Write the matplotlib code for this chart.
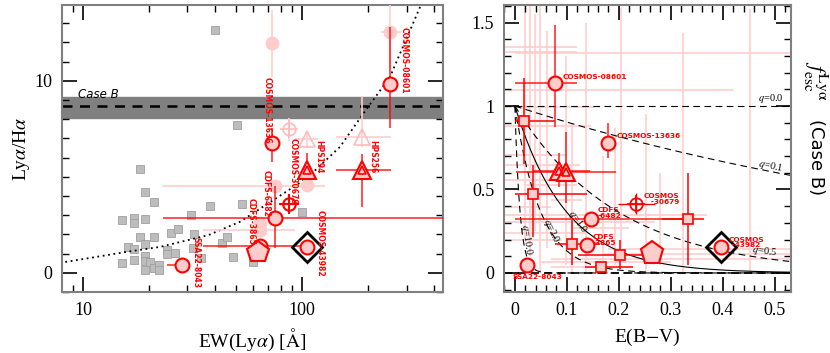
import numpy as np
import matplotlib
matplotlib.use("Agg")
import matplotlib.pyplot as plt
from matplotlib.ticker import MultipleLocator, LogLocator, FuncFormatter, NullFormatter

plt.rcParams["font.family"] = ["Liberation Serif", "DejaVu Serif"]
plt.rcParams["mathtext.fontset"] = "stix"

RED = "#ff0000"
PINK = "#ffcccc"
PALE = "#ffcdcd"
LBL = "DejaVu Sans"

# ---------------- left panel data: Lya/Ha vs EW(Lya) ----------------
grey_ew = [18.2, 19.2, 21.1, 15.1, 17.1, 17.1, 19.2, 18.2, 19.2, 21.1, 16.0, 17.1,
           25.2, 27.2, 31.1, 32.1, 24.2, 24.2, 26.3, 31.8, 34.6, 17.1, 15.1, 19.2,
           19.2, 20.2, 21.1, 22.2, 22.2, 19.2, 38.0, 53.2, 100, 43.2, 45.5, 48.4,
           59.7, 40.1, 50.5]
grey_ratio = [5.40, 4.20, 3.68, 2.74, 2.85, 2.59, 2.80, 1.86, 1.49, 1.86, 1.34, 1.23,
              2.07, 2.28, 3.00, 2.02, 1.18, 0.97, 1.03, 1.29, 0.77, 0.69, 0.51, 0.87,
              0.61, 0.56, 0.24, 0.40, 0.14, 0.14, 3.47, 3.58, 3.16, 1.55, 1.86, 0.82,
              0.56, 12.64, 7.69]

# dotted model curve
curve_ew = [7.85, 11.1, 15.8, 22.5, 37.3, 52.1, 74.0, 105, 149, 190.6, 252, 346]
curve_ratio = [0.52, 0.80, 1.09, 1.35, 1.96, 2.66, 3.79, 4.92, 6.56, 8.30, 10.2, 13.85]

caseb_ratio = 8.7
caseb_lo, caseb_hi = 8.05, 9.17

# labelled objects (corrected values)
circ_names = ["SSA22-8043", "CDFS-3865", "CDFS-6482", "COSMOS-13636", "COSMOS-43982", "COSMOS-08601"]
circ_ew = [28.2, 64.3, 75.3, 73.1, 105, 253]
circ_ratio = [0.40, 1.41, 2.83, 6.77, 1.35, 9.83]
circ_ew_lo = [24.1, 35.3, 23.2, 73.1, 105, 253]
circ_ew_hi = [28.2, 97.9, 440, 73.1, 105, 253]
circ_ratio_lo = [0.40, 1.41, 1.27, 5.78, 1.35, 7.54]
circ_ratio_hi = [0.40, 1.41, 4.50, 7.53, 1.35, 12.81]

cross_ew, cross_ratio = [87.3], [3.61]          # COSMOS-30679
tri_ew = [105, 187.5]                            # HPS194, HPS256
tri_ratio = [5.35, 5.35]
tri_ew_lo = [105, 143.6]
tri_ew_hi = [105, 253.6]
tri_ratio_lo = [4.85, 3.44]
tri_ratio_hi = [6.25, 6.20]
pent_ew, pent_ratio = [63.1], [1.09]
diam_ew, diam_ratio = [105], [1.35]

# pale (uncorrected) counterparts
pale_circ_ew = [64.3, 64.3, 75.3, 73.1, 105, 253]
pale_circ_ratio = [2.22, 2.57, 4.50, 11.95, 4.57, 12.54]
pale_circ_ew_lo = [35.3, 64.3, 23.2, 73.1, 105, 229]
pale_circ_ew_hi = [92.8, 64.3, 127, 73.1, 105, 284]
pale_circ_ratio_lo = [2.22, 2.57, 4.50, 10.2, 4.57, 10.6]
pale_circ_ratio_hi = [2.22, 2.57, 4.50, 13.7, 4.57, 14.5]
pale_cross_ew, pale_cross_ratio = [87.3], [7.47]
pale_tri_ew = [105, 187.5]
pale_tri_ratio = [6.95, 7.08]
pale_tri_ew_lo = [92.8, 143.6]
pale_tri_ew_hi = [118, 253.6]
pale_tri_ratio_lo = [6.5, 6.56]
pale_tri_ratio_hi = [7.4, 9.2]

left_labels = ["COSMOS-08601", "COSMOS-13636", "COSMOS-30679", "HPS194", "HPS256",
               "CDFS-6482", "CDFS-3865", "COSMOS-43982", "SSA22-8043"]
left_label_ew = [292, 69.2, 90.9, 119.7, 211, 68.5, 58.5, 120.8, 32.8]
left_label_ratio = [12.8, 10.2, 7.0, 6.9, 6.9, 5.35, 3.89, 3.27, 1.86]

# ---------------- right panel data: f_esc vs E(B-V) ----------------
r_circ_ebv = [0.077, 0.179, 0.1455, 0.138, 0.396, 0.024]
r_circ_fesc = [1.136, 0.780, 0.326, 0.166, 0.156, 0.046]
r_circ_ebv_lo = [0.0, 0.179, 0.0, 0.138, 0.396, 0.024]
r_circ_ebv_hi = [0.119, 0.179, 0.336, 0.138, 0.396, 0.024]
r_circ_fesc_lo = [0.876, 0.686, 0.326, 0.166, 0.156, 0.046]
r_circ_fesc_hi = [1.486, 0.896, 0.326, 0.166, 0.156, 0.046]

r_cross_ebv, r_cross_fesc = [0.2327], [0.416]
r_cross_ebv_lo, r_cross_ebv_hi = [0.199], [0.269]
r_cross_fesc_lo, r_cross_fesc_hi = [0.352], [0.480]

r_tri_ebv = [0.085, 0.0975]
r_tri_fesc = [0.612, 0.606]
r_tri_ebv_lo = [0.035, 0.003]
r_tri_ebv_hi = [0.145, 0.194]
r_tri_fesc_lo = [0.516, 0.418]
r_tri_fesc_hi = [0.720, 0.846]

r_sq_ebv = [0.017, 0.035, 0.333, 0.110, 0.203, 0.165]
r_sq_fesc = [0.910, 0.472, 0.322, 0.172, 0.106, 0.036]
r_sq_ebv_lo = [0.0, 0.0, 0.283, 0.077, 0.122, 0.135]
r_sq_ebv_hi = [0.077, 0.139, 0.363, 0.163, 0.244, 0.227]
r_sq_fesc_lo = [0.65, 0.216, 0.046, 0.046, 0.026, 0.036]
r_sq_fesc_hi = [1.17, 0.646, 0.596, 0.316, 0.196, 0.036]

r_pent_ebv, r_pent_fesc = [0.264], [0.120]
r_diam_ebv, r_diam_fesc = [0.396], [0.156]

# background (comparison sample) error bars
bg_h_fesc = [1.356, 1.326, 1.316, 1.096, 0.992, 0.88, 0.706, 0.646, 0.556, 0.526, 0.436,
             0.396, 0.346, 0.306, 0.272, 0.24, 0.196, 0.146, 0.116, 0.086, 0.066, 0.036]
bg_h_lo = [-0.02, -0.02, 0.0, -0.02, -0.02, -0.02, -0.02, -0.02, -0.02, 0.02, 0.07,
           -0.02, -0.02, -0.02, 0.11, -0.02, -0.02, 0.18, 0.17, 0.07, 0.05, 0.07]
bg_h_hi = [0.119, 0.119, 0.53, 0.42, 0.154, 0.147, 0.10, 0.125, 0.09, 0.12, 0.13,
           0.07, 0.37, 0.27, 0.22, 0.14, 0.09, 0.53, 0.53, 0.53, 0.30, 0.18]
bg_v_ebv = [0.019, 0.029, 0.038, 0.049, 0.061, 0.099, 0.136, 0.192, 0.205, 0.253,
            0.324, 0.452, 0.28, 0.17, 0.11]
bg_v_lo = [0.2, 0.1, 0.25, 0.0, 0.15, 0.05, 0.0, 0.05, 0.1, 0.0, 0.0, 0.0, 0.05, 0.0, 0.0]
bg_v_hi = [1.6, 1.6, 1.55, 1.6, 1.45, 1.3, 1.5, 0.87, 1.59, 0.95, 1.44, 1.58, 0.6, 0.7, 0.9]

q_values = [0.0, 0.1, 0.5, 1.0, 2.0, 10.0]
k_lya = 11.0

right_labels = ["COSMOS-08601", "COSMOS-13636", "COSMOS\n   -30679", "CDFS\n-6482",
                "CDFS\n-3865", "COSMOS\n -43982", "SSA22-8043"]
right_label_ebv = [0.091, 0.196, 0.247, 0.159, 0.150, 0.411, -0.004]
right_label_fesc = [1.176, 0.822, 0.441, 0.357, 0.196, 0.182, -0.024]


def bars(ax, x, y, xlo, xhi, ylo, yhi, color, lw, alpha=1.0, z=2):
    x = np.asarray(x); y = np.asarray(y)
    xerr = [x - np.asarray(xlo), np.asarray(xhi) - x]
    yerr = [y - np.asarray(ylo), np.asarray(yhi) - y]
    ax.errorbar(x, y, xerr=xerr, yerr=yerr, fmt="none", ecolor=color,
                elinewidth=lw, capsize=0, alpha=alpha, zorder=z)


def style_axes(ax):
    for s in ax.spines.values():
        s.set_color("#808080")
        s.set_linewidth(1.5)
    ax.tick_params(which="both", direction="in", top=True, right=True,
                   labelsize=13, color="black")
    ax.tick_params(which="major", length=11, width=1.2, pad=7)
    ax.tick_params(which="minor", length=5, width=1)


fig = plt.figure(figsize=(8.3, 3.53), dpi=100)
axL = fig.add_axes([0.0747, 0.1728, 0.459, 0.813])
axR = fig.add_axes([0.6072, 0.1728, 0.3458, 0.813])

# ---------------- left ----------------
ax = axL
ax.set_xscale("log")
ax.axhspan(caseb_lo, caseb_hi, color="#808080", zorder=1)
ax.axhline(caseb_ratio, color="black", lw=1.8, ls=(0, (4, 3)), zorder=2)
ax.text(9.5, caseb_hi + 0.1, "Case B", fontsize=8.5, style="italic", family=LBL,
        va="center", ha="left")
ax.plot(grey_ew, grey_ratio, "s", ms=5.5, color="#bdbdbd", mec="#a0a0a0", mew=0.6, zorder=2)
ax.plot(curve_ew, curve_ratio, ls=(0, (1, 2)), color="black", lw=1.3, zorder=3)

# pale versions
bars(axL, pale_circ_ew, pale_circ_ratio, pale_circ_ew_lo, pale_circ_ew_hi,
     pale_circ_ratio_lo, pale_circ_ratio_hi, PALE, 1.2, z=3)
bars(axL, pale_tri_ew, pale_tri_ratio, pale_tri_ew_lo, pale_tri_ew_hi,
     pale_tri_ratio_lo, pale_tri_ratio_hi, PALE, 1.2, z=3)
ax.errorbar(pale_cross_ew, pale_cross_ratio, yerr=0.6, fmt="none", ecolor=PALE, elinewidth=1.2, zorder=3)
ax.plot(pale_circ_ew, pale_circ_ratio, "o", ms=9, color=PINK, mec=PINK, zorder=4)
ax.plot(pale_tri_ew, pale_tri_ratio, "^", ms=11, mfc="none", mec="#ffbbbb", mew=1.2, zorder=4)
ax.plot(pale_cross_ew, pale_cross_ratio, "o", ms=9, mfc="none", mec="#ffbbbb", mew=1.2, zorder=4)
ax.plot(pale_cross_ew, pale_cross_ratio, "+", ms=13, mec="#ffbbbb", mew=1.2, zorder=4)

# corrected
bars(axL, circ_ew, circ_ratio, circ_ew_lo, circ_ew_hi, circ_ratio_lo, circ_ratio_hi,
     RED, 1.3, alpha=0.75, z=5)
bars(axL, tri_ew, tri_ratio, tri_ew_lo, tri_ew_hi, tri_ratio_lo, tri_ratio_hi,
     RED, 1.3, alpha=0.75, z=5)
ax.plot(circ_ew, circ_ratio, "o", ms=10, mfc=PINK, mec=RED, mew=1.5, zorder=6)
ax.plot(tri_ew, tri_ratio, "^", ms=13, mfc=PINK, mec=RED, mew=1.5, zorder=6)
ax.plot(tri_ew, tri_ratio, "^", ms=6, mfc="none", mec=RED, mew=1.2, zorder=7)
ax.plot(cross_ew, cross_ratio, "o", ms=9, mfc="none", mec=RED, mew=1.5, zorder=6)
ax.plot(cross_ew, cross_ratio, "+", ms=14, mec=RED, mew=1.5, zorder=6)
ax.plot(pent_ew, pent_ratio, "p", ms=16, mfc=PINK, mec=RED, mew=1.5, zorder=6)
ax.plot(diam_ew, diam_ratio, "D", ms=15, mfc="none", mec="black", mew=2, zorder=7)

for t, x, y in zip(left_labels, left_label_ew, left_label_ratio):
    ax.text(x, y, t, rotation=-90, ha="center", va="top", fontsize=5.5,
            family=LBL, color=RED, fontweight="semibold", zorder=8)

ax.set_xlim(8.02, 440)
ax.set_ylim(-1.0, 13.95)
ax.xaxis.set_major_locator(LogLocator(base=10))
ax.xaxis.set_minor_locator(LogLocator(base=10, subs=np.arange(2, 10)))
ax.xaxis.set_major_formatter(FuncFormatter(lambda v, p: "%g" % v))
ax.xaxis.set_minor_formatter(NullFormatter())
ax.yaxis.set_major_locator(MultipleLocator(10))
ax.yaxis.set_minor_locator(MultipleLocator(1))
style_axes(ax)
ax.set_xlabel(r"EW(Ly$\alpha$) [$\mathrm{\AA}$]", fontsize=14, labelpad=6)
ax.set_ylabel(r"Ly$\alpha$/H$\alpha$", fontsize=14, labelpad=2)

# ---------------- right ----------------
ax = axR
ax.hlines(bg_h_fesc, bg_h_lo, bg_h_hi, color=PALE, lw=1.2, zorder=1)
ax.vlines(bg_v_ebv, bg_v_lo, bg_v_hi, color=PALE, lw=1.2, zorder=1)

ebv = np.linspace(0, 0.55, 300)
for q in q_values:
    f = 10 ** (-0.4 * q * k_lya * ebv)
    if q == 1.0:
        ax.plot(ebv, f, color="black", lw=0.8, zorder=2)
    elif q == 0.0:
        ax.axhline(1.0, color="black", lw=0.8, ls=(0, (6, 4)), zorder=2)
    else:
        ax.plot(ebv, f, color="black", lw=0.8, ls=(0, (6, 4)), zorder=2)
ax.axhline(0.0, color="black", lw=1.2, ls=(0, (5, 3)), zorder=2)

qtxt = dict(fontsize=7.5, color="black", zorder=3)
ax.text(0.468, 1.008, "$q$=0.0", va="bottom", ha="left", **qtxt)
ax.text(0.465, 0.585, "$q$=0.1", va="bottom", ha="left", rotation=-12, **qtxt)
ax.text(0.455, 0.078, "$q$=0.5", va="bottom", ha="left", rotation=-8, **qtxt)
ax.text(0.12, 0.306, "$q$=1.0", va="center", ha="center", rotation=-55, **qtxt)
ax.text(0.07, 0.25, "$q$=2.0", va="center", ha="center", rotation=-65, **qtxt)
ax.text(0.022, 0.2, "$q$=10.0", va="center", ha="center", rotation=-82, **qtxt)

bars(axR, r_circ_ebv, r_circ_fesc, r_circ_ebv_lo, r_circ_ebv_hi, r_circ_fesc_lo, r_circ_fesc_hi,
     RED, 1.3, alpha=0.75, z=4)
bars(axR, r_cross_ebv, r_cross_fesc, r_cross_ebv_lo, r_cross_ebv_hi, r_cross_fesc_lo, r_cross_fesc_hi,
     RED, 1.0, z=4)
bars(axR, r_tri_ebv, r_tri_fesc, r_tri_ebv_lo, r_tri_ebv_hi, r_tri_fesc_lo, r_tri_fesc_hi,
     RED, 1.3, alpha=0.75, z=4)
bars(axR, r_sq_ebv, r_sq_fesc, r_sq_ebv_lo, r_sq_ebv_hi, r_sq_fesc_lo, r_sq_fesc_hi,
     RED, 1.3, alpha=0.85, z=4)
ax.plot(r_circ_ebv, r_circ_fesc, "o", ms=10, mfc=PINK, mec=RED, mew=1.5, zorder=6)
ax.plot(r_sq_ebv, r_sq_fesc, "s", ms=6.5, mfc=PINK, mec=RED, mew=1.2, zorder=6)
ax.plot(r_tri_ebv, r_tri_fesc, "^", ms=13, mfc=PINK, mec=RED, mew=1.5, zorder=6)
ax.plot(r_tri_ebv, r_tri_fesc, "^", ms=6, mfc="none", mec=RED, mew=1.2, zorder=7)
ax.plot(r_cross_ebv, r_cross_fesc, "o", ms=9, mfc="none", mec=RED, mew=1.3, zorder=6)
ax.plot(r_cross_ebv, r_cross_fesc, "+", ms=13, mec=RED, mew=1.3, zorder=6)
ax.plot(r_pent_ebv, r_pent_fesc, "p", ms=17, mfc=PINK, mec=RED, mew=1.5, zorder=6)
ax.plot(r_diam_ebv, r_diam_fesc, "D", ms=15, mfc="none", mec="black", mew=2, zorder=7)

for t, x, y in zip(right_labels, right_label_ebv, right_label_fesc):
    ax.text(x, y, t, ha="left", va="center", fontsize=5.3, family=LBL,
            color=RED, fontweight="semibold", linespacing=0.95, zorder=8)

ax.set_xlim(-0.021, 0.531)
ax.set_ylim(-0.114, 1.605)
ax.xaxis.set_major_locator(MultipleLocator(0.1))
ax.xaxis.set_minor_locator(MultipleLocator(0.02))
ax.yaxis.set_major_locator(MultipleLocator(0.5))
ax.yaxis.set_minor_locator(MultipleLocator(0.1))
fmt = FuncFormatter(lambda v, p: "%g" % round(v, 3))
ax.xaxis.set_major_formatter(fmt)
ax.yaxis.set_major_formatter(fmt)
style_axes(ax)
ax.set_xlabel("E(B$-$V)", fontsize=14, labelpad=6)

fig.text(0.982, 0.77, r"$f_{\rm esc}^{\rm Ly\alpha}$", rotation=-90, ha="center", va="center",
         fontsize=16)
fig.text(0.983, 0.555, "(Case B)", rotation=-90, ha="center", va="center",
         fontsize=13, family=LBL)

fig.savefig("out.png", dpi=100)
